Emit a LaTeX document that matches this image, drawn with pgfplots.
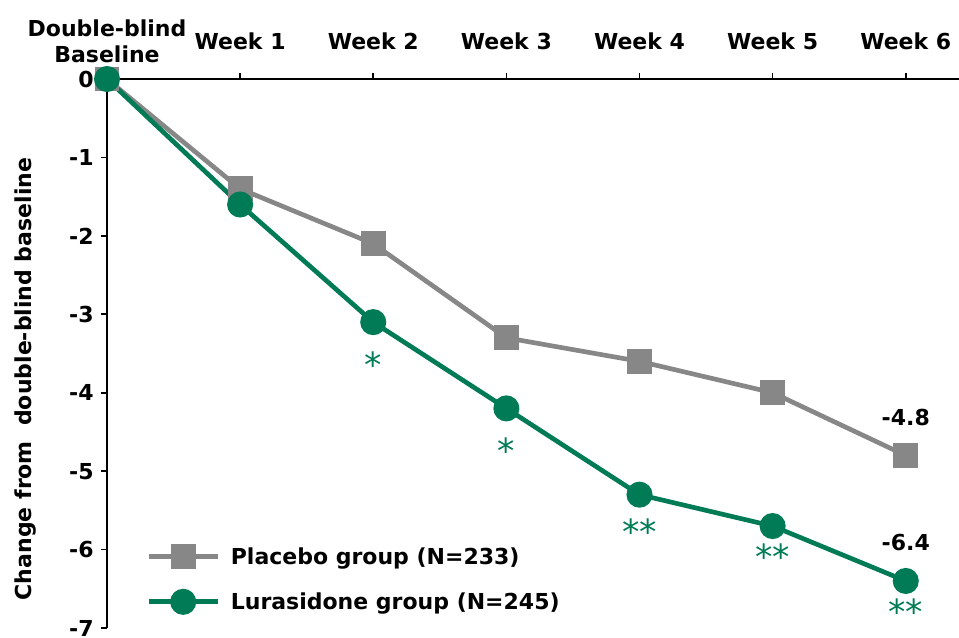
\documentclass[border=0pt]{standalone}
\usepackage{fontspec}
\setmainfont{DejaVu Sans}
\usepackage{pgfplots}
\pgfplotsset{compat=1.18}
\definecolor{lgreen}{RGB}{0,123,85}
\definecolor{pgray}{RGB}{135,135,135}
\newcommand{\bigf}{\fontsize{16.5}{19.8}\selectfont\bfseries}
\newcommand{\astf}{\fontsize{26}{26}\selectfont}
\begin{document}
\begin{tikzpicture}
\begin{axis}[
  at={(0,0)}, anchor=north west,
  scale only axis, width=639pt, height=411.75pt,
  xmin=0, xmax=6.4, ymin=-7, ymax=0,
  axis x line*=top, axis y line*=left,
  axis line style={line width=1.2pt, black},
  tick style={line width=1.2pt, black},
  tick align=outside,
  major tick length=4.5pt,
  clip=false,
  xtick={0,1,2,3,4,5,6},
  xticklabels={{Double-blind\\Baseline},Week 1,Week 2,Week 3,Week 4,Week 5,Week 6},
  xticklabel style={font=\bigf, align=center, anchor=center, yshift=24pt},
  ytick={0,-1,-2,-3,-4,-5,-6,-7},
  yticklabels={0,-1,-2,-3,-4,-5,-6,-7},
  yticklabel style={font=\bigf, xshift=-2pt},
  ylabel={Change from\ \ double-blind baseline},
  ylabel style={font=\bigf, at={(axis description cs:-0.0962,0.4536)}, anchor=center, rotate=0},
  legend style={at={(axis description cs:0.041,0.157)}, anchor=north west, draw=none, fill=none, font=\bigf, row sep=15.75pt, column sep=6pt},
  legend cell align=left,
  legend image code/.code={\draw[mark repeat=2,mark phase=2,#1] plot coordinates {(0pt,0pt) (26pt,0pt) (52pt,0pt)};},
]
\addplot[pgray, line width=3.5pt, mark=square*, mark size=7.6pt, mark options={solid}] coordinates {
  (0,0) (1,-1.4) (2,-2.1) (3,-3.3) (4,-3.6) (5,-4.0) (6,-4.8)};
\addlegendentry{Placebo group (N=233)}
\addplot[lgreen, line width=3.5pt, mark=*, mark size=8pt, mark options={solid}] coordinates {
  (0,0) (1,-1.6) (2,-3.1) (3,-4.2) (4,-5.3) (5,-5.7) (6,-6.4)};
\addlegendentry{Lurasidone group (N=245)}
\node[font=\bigf, above=19pt] at (axis cs:6,-4.8) {-4.8};
\node[font=\bigf, above=19pt] at (axis cs:6,-6.4) {-6.4};
\node[font=\astf, text=lgreen] at (axis cs:2,-3.64) {*};
\node[font=\astf, text=lgreen] at (axis cs:3,-4.74) {*};
\node[font=\astf, text=lgreen] at (axis cs:4,-5.77) {**};
\node[font=\astf, text=lgreen] at (axis cs:5,-6.09) {**};
\node[font=\astf, text=lgreen] at (axis cs:6,-6.79) {**};
\end{axis}
\pgfresetboundingbox
\path[use as bounding box] (-80.25pt,59.25pt) rectangle (639pt,-418.5pt);
\end{tikzpicture}
\end{document}
